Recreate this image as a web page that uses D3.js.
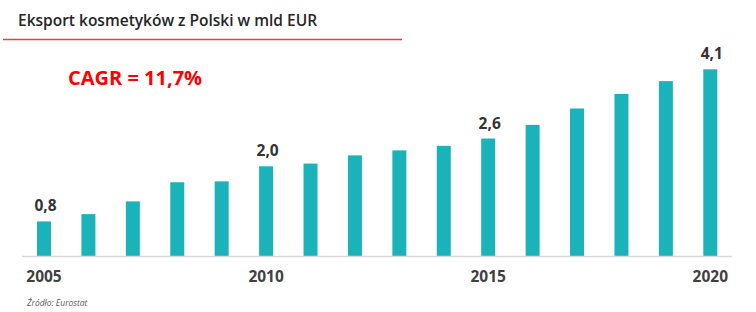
<!DOCTYPE html>
<html><head><meta charset="utf-8">
<script src="https://cdn.jsdelivr.net/npm/d3@7"></script>
<style>
html,body{margin:0;padding:0;background:#fff;}
svg{display:block;font-family:"Open Sans",sans-serif;}
</style></head>
<body>
<svg id="c" width="756" height="312"></svg>
<script>
const years = [2005,2006,2007,2008,2009,2010,2011,2012,2013,2014,2015,2016,2017,2018,2019,2020];
const values = [0.77,0.93,1.21,1.63,1.65,1.98,2.04,2.22,2.33,2.43,2.59,2.89,3.25,3.57,3.85,4.11];
const labeledYears = [2005,2010,2015,2020];
const labelTexts = ["0,8","2,0","2,6","4,1"];
const titleText = "Eksport kosmetyków z Polski w mld EUR";
const cagrText = "CAGR = 11,7%";
const sourceText = "Źródło: Eurostat";

const svg = d3.select("#c");
const baseY = 256.5;

const x = d3.scaleBand().domain(years).range([14.8, 739.5]).paddingInner(0.685).paddingOuter(0.5);
const y = d3.scaleLinear().domain([0, 4.11]).range([baseY, 69.3]);

// title
svg.append("text").attr("x", 18).attr("y", 26)
  .attr("font-size", 15.5).attr("font-weight", 600).attr("fill", "#262626")
  .text(titleText);
svg.append("line").attr("x1", 3).attr("x2", 402).attr("y1", 39.5).attr("y2", 39.5)
  .attr("stroke", "#f23a3a").attr("stroke-width", 1.3);

// CAGR
svg.append("text").attr("x", 68).attr("y", 85)
  .attr("font-size", 20).attr("font-weight", 700).attr("fill", "#ff0000")
  .text(cagrText);

// bars
svg.selectAll("rect.bar").data(years).enter().append("rect")
  .attr("class", "bar")
  .attr("x", d => x(d)).attr("width", x.bandwidth())
  .attr("y", (d, i) => y(values[i]))
  .attr("height", (d, i) => baseY - y(values[i]))
  .attr("fill", "#1ab3ba");

// baseline axis
const axis = d3.axisBottom(x).tickValues(labeledYears).tickSize(0).tickPadding(14);
const g = svg.append("g").attr("transform", `translate(0,${baseY})`).call(axis);
g.select(".domain").attr("d", "M22,0H732").attr("stroke", "#d9d9d9").attr("stroke-width", 1.5);
g.selectAll(".tick text").attr("font-family", "'Open Sans',sans-serif")
  .attr("font-size", 15.5).attr("font-weight", 700).attr("fill", "#404040")
  .attr("dy", "0.71em");

// value labels
svg.selectAll("text.val").data(labeledYears).enter().append("text")
  .attr("class", "val")
  .attr("x", d => x(d) + x.bandwidth() / 2 + 1.5)
  .attr("y", d => y(values[years.indexOf(d)]) - 10)
  .attr("text-anchor", "middle")
  .attr("font-size", 15.5).attr("font-weight", 700).attr("fill", "#333333")
  .text((d, i) => labelTexts[i]);

// source
svg.append("text").attr("x", 27).attr("y", 306)
  .attr("font-size", 8.5).attr("font-style", "italic").attr("fill", "#595959")
  .text(sourceText);
</script>
</body></html>
